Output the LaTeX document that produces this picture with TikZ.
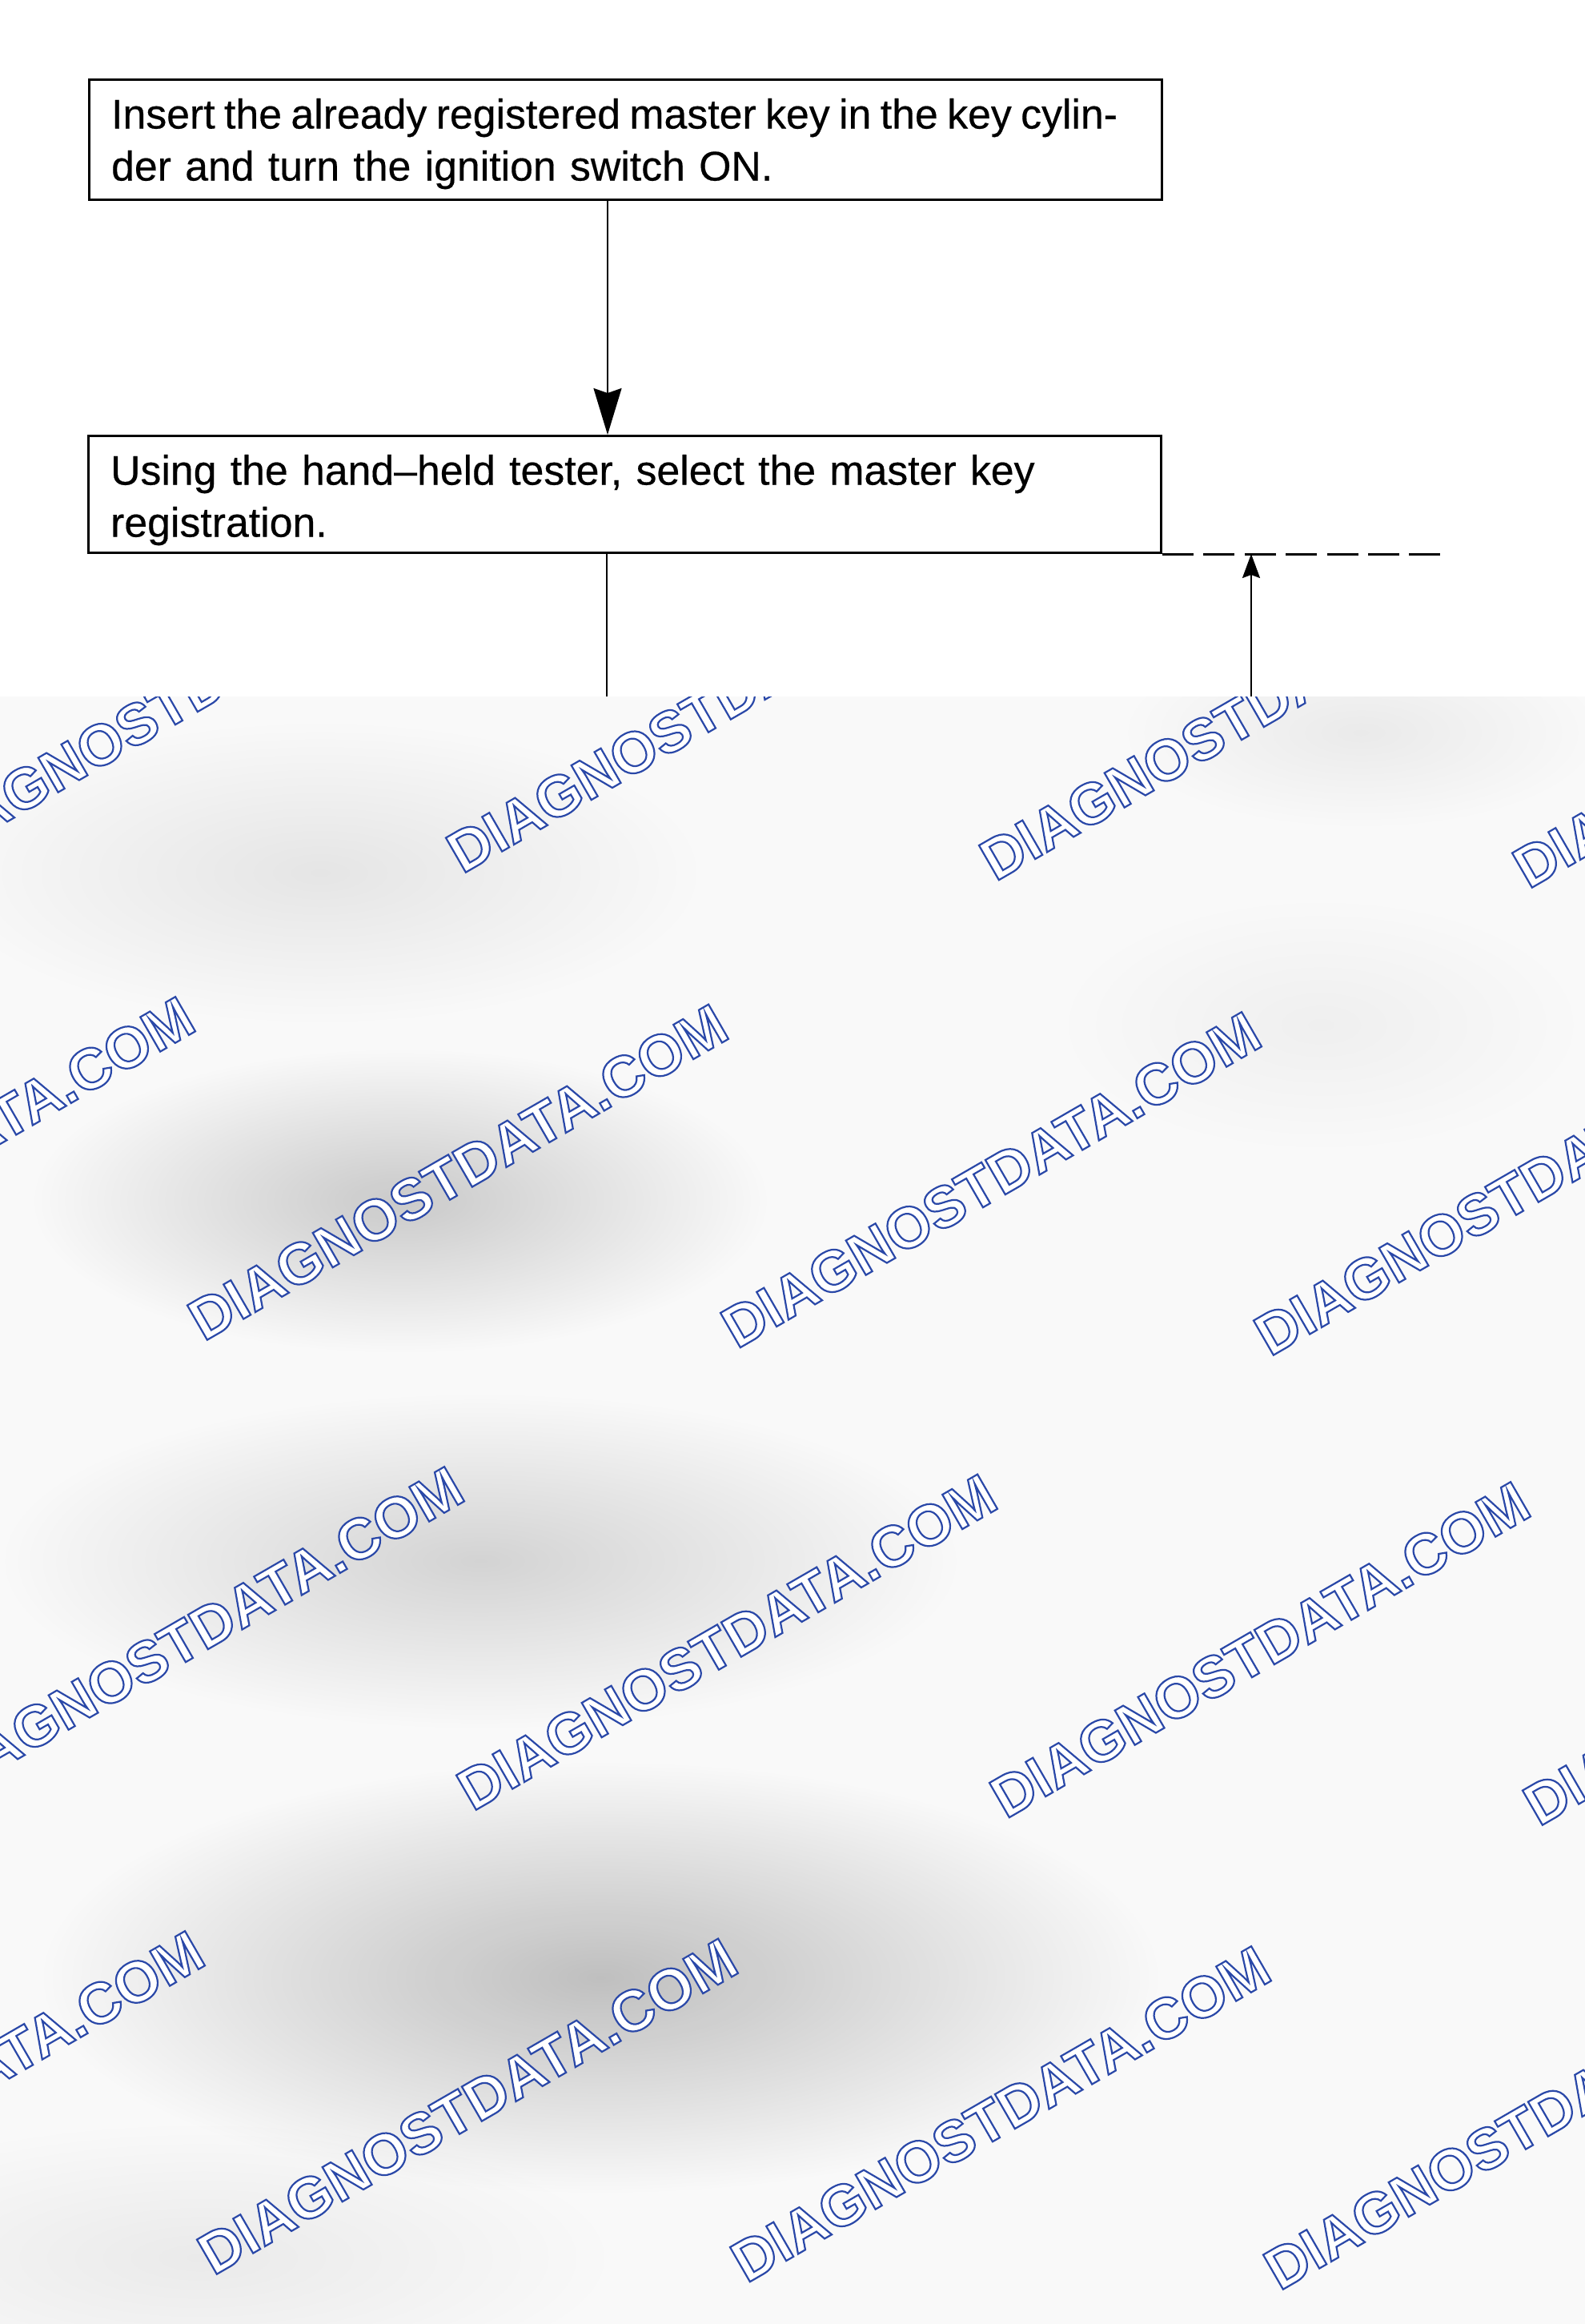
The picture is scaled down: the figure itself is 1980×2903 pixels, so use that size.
\documentclass[tikz,border=0pt]{standalone}
\usepackage{fontspec}
\setmainfont{Liberation Sans}
\newfontfamily\boxfont[Ligatures=TeX,FakeBold=0.35]{Liberation Sans}
\usetikzlibrary{arrows.meta,fadings}
\tikzfading[name=blobfade, inner color=transparent!0, outer color=transparent!100]
\definecolor{wmblue}{HTML}{2A48A8}
\makeatletter
\newcommand{\wmoutline}{\pgfsys@invoke{2 Tr 0.55 w 0.165 0.282 0.659 RG}}
\makeatother
\begin{document}
\begin{tikzpicture}[x=0.25pt,y=-0.25pt,
  stepbox/.style={draw=black, line width=0.75pt, rectangle, anchor=north west,
    inner xsep=6.9pt, inner ysep=0pt, text width=321.2pt, align=left,
    font=\boxfont\fontsize{12.95}{16.25}\selectfont},
  flow/.style={draw=black, line width=0.55pt},
  bigtip/.style={-{Stealth[length=14.5pt,width=8.75pt,inset=1.5pt]}},
  smalltip/.style={-{Stealth[length=7.5pt,width=5.5pt,inset=1pt]}},
  dashline/.style={draw=black, line width=0.75pt, dash pattern=on 9.75pt off 3.1pt},
  wm/.style={font=\fontsize{18.1}{20}\selectfont\bfseries, text=white, inner sep=0pt,
    anchor=base west, rotate=30},
  blob/.style={fill=black, path fading=blobfade}
]
\useasboundingbox (0,0) rectangle (1980,2903);
\fill[white] (0,0) rectangle (1980,2903);

% ---- flowchart ----
\node[stepbox] (b1) at (110,98)
  {\rule{0pt}{15.25pt}{\spaceskip=2.85pt Insert the already registered master key in the key cylin-}\\
   der and turn the ignition switch ON.\rule[-6pt]{0pt}{6pt}};
\node[stepbox] (b2) at (109,543)
  {\rule{0pt}{15.25pt}Using the hand–held tester, select the master key\\
   registration.\rule[-5pt]{0pt}{5pt}};

\coordinate (ax) at (759,0);
\coordinate (b2out) at (758,870);
\coordinate (dashend) at (1800,0);
\coordinate (upbot) at (1563,870);

\draw[flow, bigtip] (b1.south -| ax) -- (b2.north -| ax);
\draw[flow] (b2.south -| b2out) -- (b2out);
\draw[dashline] (b2.south east) -- (b2.south east -| dashend);
\draw[flow, smalltip] (upbot) -- (upbot |- b2.south);

% ---- watermark region ----
\begin{scope}
\clip (0,870) rectangle (1980,2903);
\fill[black!2.5] (0,870) rectangle (1980,2903);
\fill[blob, fill opacity=0.08] (400,1090) ellipse [x radius=480, y radius=190];
\fill[blob, fill opacity=0.06] (1700,915) ellipse [x radius=300, y radius=120];
\fill[blob, fill opacity=0.04] (1650,1280) ellipse [x radius=330, y radius=160];
\fill[blob, fill opacity=0.19] (500,1500) ellipse [x radius=460, y radius=190];
\fill[blob, fill opacity=0.15] (600,1950) ellipse [x radius=600, y radius=210];
\fill[blob, fill opacity=0.23] (750,2470) ellipse [x radius=700, y radius=270];
\fill[blob, fill opacity=0.06] (250,2820) ellipse [x radius=520, y radius=170];

\foreach \i in {0,...,3}{
  \node[wm] (wA\i) at (-89+666*\i, 1083+9.5*\i) {\wmoutline DIAGNOSTDATA.COM};
  \node[wm] (wB\i) at (-412+666*\i, 1667+9.5*\i) {\wmoutline DIAGNOSTDATA.COM};
  \node[wm] (wC\i) at (-76+666*\i, 2254+9.5*\i) {\wmoutline DIAGNOSTDATA.COM};
  \node[wm] (wD\i) at (-400+666*\i, 2834+9.5*\i) {\wmoutline DIAGNOSTDATA.COM};
}
\end{scope}
\end{tikzpicture}
\end{document}
